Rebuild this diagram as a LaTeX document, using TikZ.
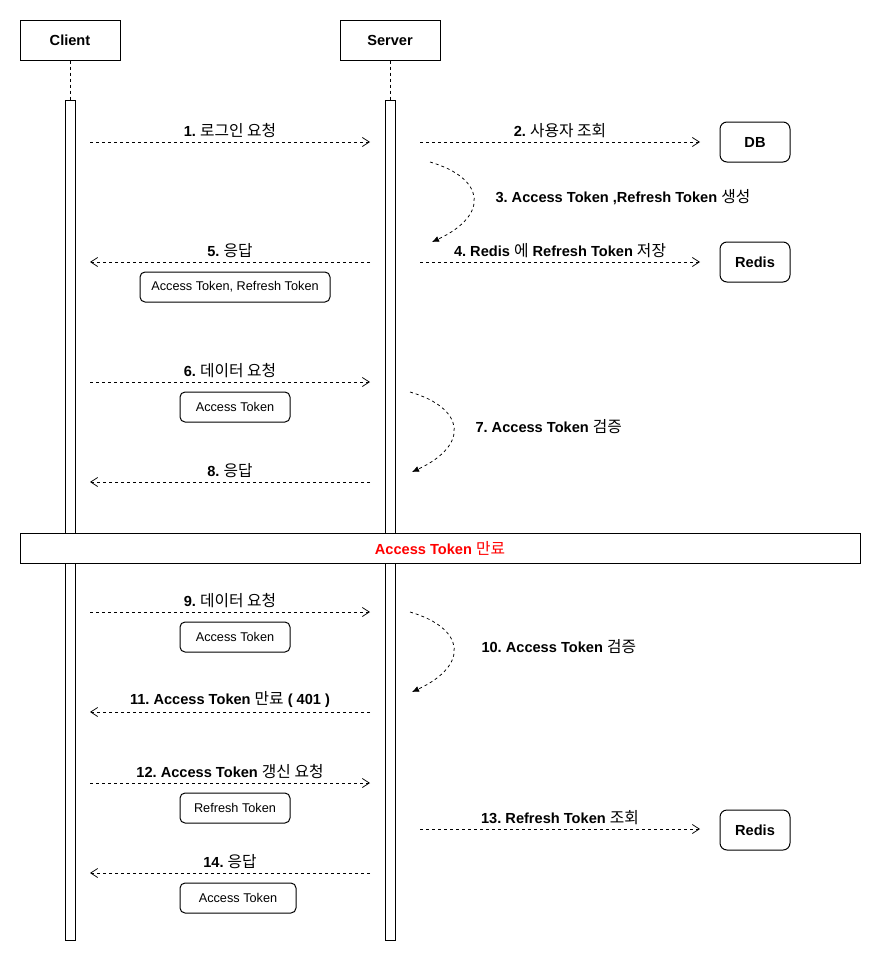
\documentclass[tikz,border=0pt]{standalone}
\usepackage{fontspec}
\setmainfont{Liberation Sans}
\newfontfamily\kr{Noto Sans CJK KR}[Scale=1.08,BoldFont=Noto Sans CJK KR]
\newcommand{\ko}[1]{{\kr #1}}
\definecolor{expired}{HTML}{FF0000}
\usepackage{tikz}
\usetikzlibrary{arrows.meta,positioning}
\frenchspacing

\begin{document}
\begin{tikzpicture}[x=1pt,y=-1pt,line width=1pt,font=\fontsize{14.6}{16}\selectfont\bfseries,
  actor/.style={draw,minimum width=100pt,minimum height=40pt},
  store/.style={draw,rounded corners=7pt,minimum width=70pt,minimum height=40pt},
  bar/.style={draw,fill=white,minimum width=10pt,minimum height=840pt,inner sep=0pt},
  payload/.style={draw,rounded corners=5pt,minimum height=30pt,font=\fontsize{12.7}{14}\selectfont},
  life/.style={line width=0.75pt,dash pattern=on 3pt off 3pt},
  msg/.style={line width=0.75pt,dash pattern=on 3pt off 3pt,-{Straight Barb[length=7pt,width=9pt]}},
  selfmsg/.style={line width=0.75pt,dash pattern=on 3pt off 3pt,-{Latex[length=7pt,width=6pt]}},
  lbl/.style={above=3pt,inner sep=1pt}]
\useasboundingbox (0,0) rectangle (882,961);
% lifelines
\node[actor] (client) at (70,40) {Client};
\node[actor] (server) at (390,40) {Server};
\node[bar] (cbar) at (70,520) {};
\node[bar] (sbar) at (390,520) {};
\draw[life] (client) -- (cbar.north);
\draw[life] (server) -- (sbar.north);
% stores
\node[store] (db) at (755,142) {DB};
\node[store] (redis) at (755,262) {Redis};
\node[store] (redis2) at (755,830) {Redis};
% client -> server requests
\foreach \n/\y/\t in {1/142/{1. \ko{로그인 요청}}, 6/382/{6. \ko{데이터 요청}}, 9/612/{9. \ko{데이터 요청}}, 12/783/{12. Access Token \ko{갱신 요청}}}{
  \coordinate (from\n) at (90,\y); \coordinate (to\n) at (370,\y);
  \draw[msg] (from\n) -- node[lbl] (lbl\n) {\t} (to\n);}
% server -> client replies
\foreach \n/\y/\t in {5/262/{5. \ko{응답}}, 8/482/{8. \ko{응답}}, 11/712/{11. Access Token \ko{만료} ( 401 )}, 14/873/{14. \ko{응답}}}{
  \coordinate (from\n) at (370,\y); \coordinate (to\n) at (90,\y);
  \draw[msg] (from\n) -- node[lbl] (lbl\n) {\t} (to\n);}
% server -> stores
\foreach \n/\y/\t in {2/142/{2. \ko{사용자 조회}}, 4/262/{4. Redis \ko{에} Refresh Token \ko{저장}}, 13/829/{13. Refresh Token \ko{조회}}}{
  \coordinate (from\n) at (420,\y); \coordinate (to\n) at (700,\y);
  \draw[msg] (from\n) -- node[lbl] (lbl\n) {\t} (to\n);}
% self calls on the server
\foreach \n/\x/\y/\lx/\t in {3/430/162/495/{3. Access Token ,Refresh Token \ko{생성}}, 7/410/392/475/{7. Access Token \ko{검증}}, 10/410/612/481/{10. Access Token \ko{검증}}}{
  \coordinate (from\n) at (\x,\y); \coordinate (to\n) at (\x+2,\y+80);
  \draw[selfmsg] (from\n) .. controls +(55,16) and +(58,-27) .. (to\n);
  \node[anchor=west,inner sep=0pt] (lbl\n) at (\lx,\y+35) {\t};}
% payloads
\node[payload,minimum width=190pt] (tokens) at (235,287) {Access Token, Refresh Token};
\node[payload,minimum width=110pt] (access6) at (235,407) {Access Token};
\node[payload,minimum width=110pt] (access9) at (235,637) {Access Token};
\node[payload,minimum width=110pt] (refresh12) at (235,808) {Refresh Token};
\node[payload,minimum width=116pt] (access14) at (238,898) {Access Token};
% expiry banner
\node[draw,fill=white,minimum width=840pt,minimum height=30pt,text=expired] (expiry) at (440,548) {Access Token \ko{만료}};
\end{tikzpicture}
\end{document}
